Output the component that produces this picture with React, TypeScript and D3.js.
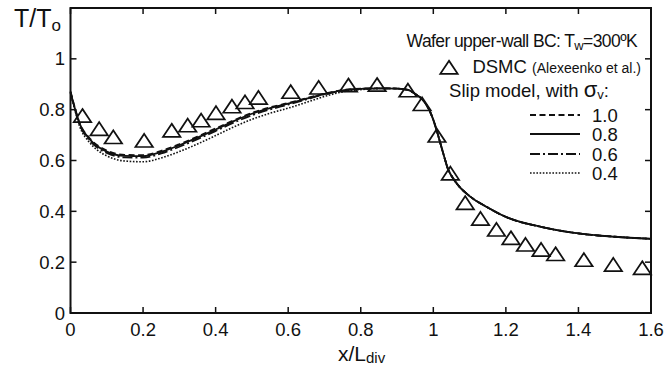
import React from "react";
import * as d3 from "d3";

const xGrid = [0, 0.01, 0.025, 0.05, 0.075, 0.1, 0.15, 0.2, 0.25, 0.3, 0.35, 0.4, 0.45, 0.5, 0.55, 0.6, 0.65, 0.7, 0.75, 0.8, 0.85, 0.9, 0.93, 0.95, 0.97, 0.99, 1.0, 1.01, 1.02, 1.03, 1.04, 1.05, 1.07, 1.1, 1.15, 1.2, 1.3, 1.4, 1.5, 1.6];

const sigma10 = [0.872, 0.818, 0.748, 0.692, 0.659, 0.639, 0.622, 0.621, 0.638, 0.664, 0.694, 0.726, 0.758, 0.787, 0.809, 0.826, 0.845, 0.863, 0.877, 0.883, 0.884, 0.883, 0.878, 0.862, 0.84, 0.795, 0.76, 0.715, 0.665, 0.615, 0.568, 0.54, 0.5, 0.46, 0.415, 0.378, 0.338, 0.313, 0.3, 0.292];
const sigma08 = [0.87, 0.815, 0.745, 0.688, 0.655, 0.635, 0.618, 0.617, 0.634, 0.66, 0.69, 0.722, 0.755, 0.784, 0.806, 0.824, 0.843, 0.862, 0.876, 0.882, 0.884, 0.883, 0.878, 0.862, 0.84, 0.795, 0.76, 0.715, 0.665, 0.615, 0.568, 0.54, 0.5, 0.46, 0.415, 0.378, 0.338, 0.313, 0.3, 0.292];
const sigma06 = [0.868, 0.813, 0.742, 0.684, 0.65, 0.63, 0.612, 0.611, 0.628, 0.654, 0.684, 0.716, 0.749, 0.778, 0.801, 0.82, 0.84, 0.86, 0.875, 0.882, 0.884, 0.883, 0.878, 0.862, 0.84, 0.795, 0.76, 0.715, 0.665, 0.615, 0.568, 0.54, 0.5, 0.46, 0.415, 0.378, 0.338, 0.313, 0.3, 0.292];
const sigma04 = [0.865, 0.81, 0.735, 0.675, 0.64, 0.618, 0.598, 0.595, 0.61, 0.635, 0.665, 0.698, 0.732, 0.762, 0.786, 0.806, 0.829, 0.852, 0.87, 0.879, 0.883, 0.883, 0.878, 0.862, 0.84, 0.795, 0.76, 0.715, 0.665, 0.615, 0.568, 0.54, 0.5, 0.46, 0.415, 0.378, 0.338, 0.313, 0.3, 0.292];

const dsmcX = [0.033, 0.079, 0.118, 0.203, 0.279, 0.323, 0.36, 0.401, 0.445, 0.481, 0.518, 0.607, 0.684, 0.766, 0.845, 0.93, 0.969, 1.01, 1.047, 1.088, 1.13, 1.174, 1.214, 1.254, 1.297, 1.337, 1.415, 1.496, 1.576];
const dsmcY = [0.774, 0.722, 0.69, 0.676, 0.716, 0.736, 0.756, 0.785, 0.811, 0.828, 0.845, 0.868, 0.885, 0.894, 0.896, 0.874, 0.82, 0.696, 0.547, 0.431, 0.369, 0.326, 0.293, 0.267, 0.247, 0.23, 0.207, 0.188, 0.175];

const xTicks = [0, 0.2, 0.4, 0.6, 0.8, 1, 1.2, 1.4, 1.6];
const yTicks = [0, 0.2, 0.4, 0.6, 0.8, 1];
const xTickLabels = ["0", "0.2", "0.4", "0.6", "0.8", "1", "1.2", "1.4", "1.6"];
const yTickLabels = ["0", "0.2", "0.4", "0.6", "0.8", "1"];

const seriesNames = ["1.0", "0.8", "0.6", "0.4"];
const seriesDash = ["6 3.5", "none", "10 3 2 3", "1.6 1.6"];

const FONT = "'Liberation Sans', Arial, Helvetica, sans-serif";

export default function App() {
  const L = 70.5, R = 651, T = 8, B = 313;
  const x = d3.scaleLinear().domain([0, 1.6]).range([L, R]);
  const y = d3.scaleLinear().domain([0, 1.2]).range([B, T]);
  const allSeries = [sigma10, sigma08, sigma06, sigma04];
  const line = d3
    .line<number>()
    .x((_, i) => x(xGrid[i]))
    .y((d) => y(d))
    .curve(d3.curveMonotoneX);
  const tri = d3.symbol(d3.symbolTriangle, 100);
  const triPath = tri() as string;
  const tickLen = 6;
  const legendY = [115, 134, 154, 173];

  return (
    <svg
      width={664}
      height={369}
      style={{ position: "absolute", left: 0, top: 0, background: "#fff" }}
      fontFamily={FONT}
    >
      <rect x={0} y={0} width={664} height={369} fill="#fff" />
      {allSeries.map((s, k) => (
        <path
          key={k}
          d={line(s) as string}
          fill="none"
          stroke="#111"
          strokeWidth={k === 3 ? 1.6 : 1.8}
          strokeDasharray={seriesDash[k]}
        />
      ))}
      {dsmcX.map((v, i) => (
        <path
          key={i}
          d={triPath}
          transform={`translate(${x(v)},${y(dsmcY[i]) + 1.5}) scale(1.15,1)`}
          fill="none"
          stroke="#111"
          strokeWidth={1.6}
        />
      ))}
      <rect x={L} y={T} width={R - L} height={B - T} fill="none" stroke="#111" strokeWidth={2} />
      {xTicks.map((t, i) => (
        <g key={i}>
          <line x1={x(t)} x2={x(t)} y1={B} y2={B - tickLen} stroke="#111" strokeWidth={1.5} />
          <line x1={x(t)} x2={x(t)} y1={T} y2={T + tickLen} stroke="#111" strokeWidth={1.5} />
          <text x={x(t)} y={336} fontSize={18.5} textAnchor="middle" fill="#111">
            {xTickLabels[i]}
          </text>
        </g>
      ))}
      {yTicks.map((t, i) => (
        <g key={i}>
          <line x1={L} x2={L + tickLen} y1={y(t)} y2={y(t)} stroke="#111" strokeWidth={1.5} />
          <line x1={R} x2={R - tickLen} y1={y(t)} y2={y(t)} stroke="#111" strokeWidth={1.5} />
          <text x={65} y={y(t) + 6.5} fontSize={18.5} textAnchor="end" fill="#111">
            {yTickLabels[i]}
          </text>
        </g>
      ))}
      <text x={14} y={27} fontSize={25} fill="#111">
        T/T<tspan fontSize={17} dy={4}>o</tspan>
      </text>
      <text x={338} y={361} fontSize={21} fill="#111">
        x/L<tspan fontSize={15} dy={2}>div</tspan>
      </text>
      <text x={637} y={47} fontSize={17.5} letterSpacing={-0.6} textAnchor="end" fill="#111">
        Wafer upper-wall BC: T<tspan fontSize={13} dy={3}>w</tspan>
        <tspan dy={-3}>=300ºK</tspan>
      </text>
      <path
        d={triPath}
        transform={`translate(449,69.5) scale(1.15,1)`}
        fill="none"
        stroke="#111"
        strokeWidth={1.6}
      />
      <text x={641} y={73} fontSize={18.5} textAnchor="end" fill="#111">
        DSMC <tspan fontSize={14}>(Alexeenko et al.)</tspan>
      </text>
      <text x={609} y={97} fontSize={18.5} textAnchor="end" fill="#111">
        Slip model, with <tspan fontSize={22}>σ</tspan>
        <tspan fontSize={13} dy={2}>v</tspan>
        <tspan dy={-2}>:</tspan>
      </text>
      {seriesNames.map((n, k) => (
        <g key={k}>
          <line
            x1={530}
            x2={580}
            y1={legendY[k]}
            y2={legendY[k]}
            stroke="#111"
            strokeWidth={k === 3 ? 1.6 : 1.8}
            strokeDasharray={seriesDash[k]}
          />
          <text x={592} y={legendY[k] + 6.5} fontSize={18.5} fill="#111">
            {n}
          </text>
        </g>
      ))}
    </svg>
  );
}
